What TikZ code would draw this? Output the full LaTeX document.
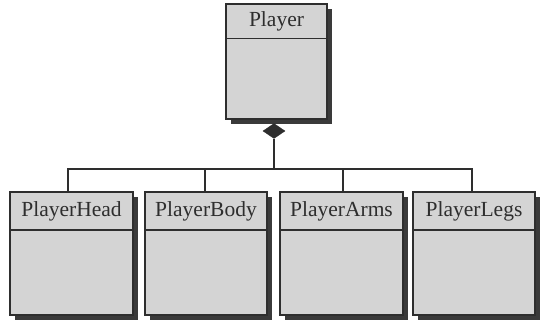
\documentclass[tikz,border=0pt]{standalone}
\usepackage{fontspec}
\setmainfont{Liberation Serif}
\usetikzlibrary{shapes.geometric,shadows}
\definecolor{boxfill}{HTML}{D4D4D4}
\definecolor{inkc}{HTML}{2E2E2E}
\definecolor{shadowc}{HTML}{3A3A3A}
\tikzset{
  cls/.style={draw=inkc, line width=1.6pt, fill=boxfill, rectangle, inner sep=0pt,
    drop shadow={shadow xshift=5pt, shadow yshift=-5pt, fill=shadowc, opacity=1}},
  clsname/.style={font=\fontsize{21.5}{23}\selectfont, text=inkc, inner sep=0pt},
  divider/.style={draw=inkc, line width=1.6pt},
  conn/.style={draw=inkc, line width=1.3pt},
  agg/.style={diamond, fill=inkc, draw=inkc, inner sep=0pt, minimum width=22pt, minimum height=15pt, aspect=1.5}
}
\begin{document}
\begin{tikzpicture}[x=1pt,y=-1pt]
\useasboundingbox (0,0) rectangle (545,320);
% classes
\node[cls, minimum width=101pt, minimum height=115pt] (player) at (276.5,61.5) {};
\node[cls, minimum width=123pt, minimum height=123pt] (head) at (71.5,253.5) {};
\node[cls, minimum width=122pt, minimum height=123pt] (body) at (206,253.5) {};
\node[cls, minimum width=123pt, minimum height=123pt] (arms) at (341.5,253.5) {};
\node[cls, minimum width=122pt, minimum height=123pt] (legs) at (474,253.5) {};
% dividers
\draw[divider] (player.west |- 0,38.5) -- (player.east |- 0,38.5);
\foreach \n in {head,body,arms,legs}{
  \draw[divider] (\n.west |- 0,230) -- (\n.east |- 0,230);
}
% names
\node[clsname] (playerT) at (276.5,21.5) {Player};
\node[clsname] (headT) at (71.5,211.5) {PlayerHead};
\node[clsname] (bodyT) at (206,211.5) {PlayerBody};
\node[clsname] (armsT) at (341.5,211.5) {PlayerArms};
\node[clsname] (legsT) at (474,211.5) {PlayerLegs};
% aggregation
\node[agg] (dia) at (274,131) {};
\coordinate (bus) at (274,169);
\draw[conn] (dia.south) -- (bus);
\draw[conn] (bus) -| ([xshift=-3.5pt]head.north);
\draw[conn] (bus) -| ([xshift=-1pt]body.north);
\draw[conn] (bus) -| ([xshift=1.5pt]arms.north);
\draw[conn] (bus) -| ([xshift=-2pt]legs.north);
\end{tikzpicture}
\end{document}
